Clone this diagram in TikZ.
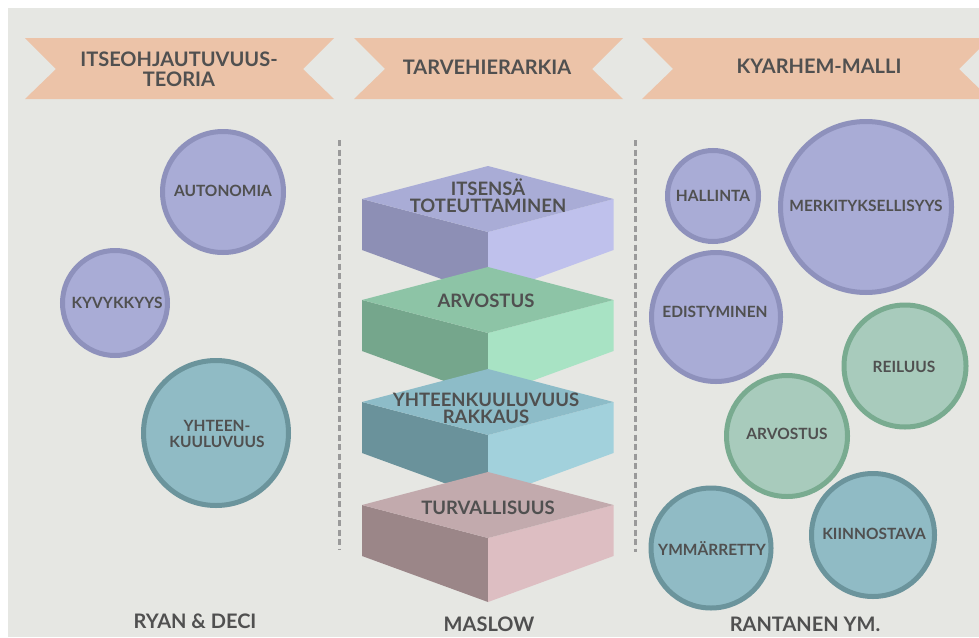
\documentclass[tikz,border=0pt]{standalone}
\usepackage{fontspec}
\setmainfont{Lato}
\definecolor{bg}{HTML}{E6E7E3}
\definecolor{bannerc}{HTML}{ECC3A8}
\definecolor{txt}{HTML}{505050}
\definecolor{dashc}{HTML}{9A9A9A}
\definecolor{pfill}{HTML}{A9ACD6}
\definecolor{pedge}{HTML}{8E91BC}
\definecolor{gfill}{HTML}{A8CBBC}
\definecolor{gedge}{HTML}{79AB90}
\definecolor{bfill}{HTML}{90BBC5}
\definecolor{bedge}{HTML}{6B949C}
% boxes
\definecolor{ptop}{HTML}{A9ACD6}\definecolor{pleft}{HTML}{8D8FB5}\definecolor{pright}{HTML}{BFC1EC}
\definecolor{gtop}{HTML}{8DC4A6}\definecolor{gleft}{HTML}{75A68C}\definecolor{gright}{HTML}{A8E3C4}
\definecolor{btop}{HTML}{8DBCC8}\definecolor{bleft}{HTML}{6A929B}\definecolor{bright}{HTML}{A2D1DC}
\definecolor{rtop}{HTML}{C2AAAD}\definecolor{rleft}{HTML}{9B8688}\definecolor{rright}{HTML}{DDBEC2}
\newcommand{\myslab}[4]{%
  \fill[#3] (362,#1+33) -- (488,#1+66) -- (488,#1+130) -- (362,#1+84) -- cycle;
  \fill[#4] (613.5,#1+33) -- (488,#1+66) -- (488,#1+130) -- (613.5,#1+84) -- cycle;
  \fill[#2] (488,#1) -- (613.5,#1+33) -- (488,#1+66) -- (362,#1+33) -- cycle;
}
\begin{document}
\begin{tikzpicture}[x=1pt,y=-1pt,
  bannerstyle/.style={fill=bannerc},
  bantext/.style={text=txt,font=\fontsize{20}{20}\selectfont\bfseries,align=center,inner sep=0pt},
  foottext/.style={text=txt,font=\fontsize{20}{20}\selectfont\bfseries,inner sep=0pt},
  boxtext/.style={text=txt,font=\fontsize{18.5}{17}\selectfont\bfseries,align=center,inner sep=0pt},
  ctext/.style={text=txt,font=\fontsize{15.5}{15}\selectfont\bfseries,align=center,inner sep=0pt},
  pcirc/.style={circle,fill=pfill,draw=pedge,line width=5pt,inner sep=0pt,minimum size=#1},
  gcirc/.style={circle,fill=gfill,draw=gedge,line width=5pt,inner sep=0pt,minimum size=#1},
  bcirc/.style={circle,fill=bfill,draw=bedge,line width=5pt,inner sep=0pt,minimum size=#1},
  divider/.style={draw=dashc,line width=3pt,dash pattern=on 6pt off 3.5pt}
]
\useasboundingbox (0,0) rectangle (979,637);
\fill[white] (0,0) rectangle (979,637);
\fill[bg] (8,8) rectangle (979,637);
\begin{scope}
\clip (0,0) rectangle (979,637);
% banners
\fill[bannerstyle] (25,38) -- (334,38) -- (303,69) -- (334,99) -- (25,99) -- (56,69) -- cycle;
\fill[bannerstyle] (354,38) -- (623,38) -- (592,69) -- (623,99) -- (354,99) -- (385,69) -- cycle;
\fill[bannerstyle] (642,38) -- (990,38) -- (959,69) -- (990,99) -- (642,99) -- (673,69) -- cycle;
\end{scope}
\node[bantext] (b1) at (179,69) {ITSEOHJAUTUVUUS-\\TEORIA};
\node[bantext] (b2) at (487,67) {TARVEHIERARKIA};
\node[bantext] (b3) at (819,66) {KYARHEM-MALLI};
% dividers
\coordinate (d1a) at (339,140);
\coordinate (d1b) at (339,549);
\coordinate (d2a) at (635,140);
\coordinate (d2b) at (635,552);
\draw[divider] (d1a) -- (d1b);
\draw[divider] (d2a) -- (d2b);
% left circles
\node[pcirc=121pt] (auto) at (223,192) {};
\node[ctext] (autot) at (223,190.5) {AUTONOMIA};
\node[pcirc=105pt] (kyv) at (115,303) {};
\node[ctext] (kyvt) at (117,302.5) {KYVYKKYYS};
\node[bcirc=145pt] (yht) at (216,433) {};
\node[ctext,font=\fontsize{15.5}{15.5}\selectfont\bfseries] (yhtt) at (217,434) {YHTEEN-\\KUULUVUUS};
% slabs
\myslab{166}{ptop}{pleft}{pright}
\myslab{267}{gtop}{gleft}{gright}
\myslab{369}{btop}{bleft}{bright}
\myslab{472}{rtop}{rleft}{rright}
\node[boxtext] (s1) at (488,196) {ITSENSÄ\\TOTEUTTAMINEN};
\node[boxtext] (s2) at (486,301) {ARVOSTUS};
\node[boxtext] (s3) at (486,408) {YHTEENKUULUVUUS\\RAKKAUS};
\node[boxtext] (s4) at (488,508) {TURVALLISUUS};
% right circles
\node[pcirc=91pt] (hal) at (713,196) {};
\node[ctext] (halt) at (713,196) {HALLINTA};
\node[pcirc=171pt] (mer) at (866,207) {};
\node[ctext] (mert) at (866,205.5) {MERKITYKSELLISYYS};
\node[pcirc=129pt] (edi) at (716,317) {};
\node[ctext] (edit) at (715,312) {EDISTYMINEN};
\node[gcirc=122pt] (rei) at (905,366) {};
\node[ctext] (reit) at (904,367) {REILUUS};
\node[gcirc=121pt] (arv) at (787,436) {};
\node[ctext] (arvt) at (787,433.5) {ARVOSTUS};
\node[bcirc=120pt] (ymm) at (711,548) {};
\node[ctext] (ymmt) at (712,549) {YMMÄRRETTY};
\node[bcirc=123pt] (kii) at (873,535) {};
\node[ctext] (kiit) at (874,534) {KIINNOSTAVA};
% footers
\node[foottext] (f1) at (195,621) {RYAN \& DECI};
\node[foottext] (f2) at (489,624) {MASLOW};
\node[foottext] (f3) at (805,624) {RANTANEN YM.};
\end{tikzpicture}
\end{document}
